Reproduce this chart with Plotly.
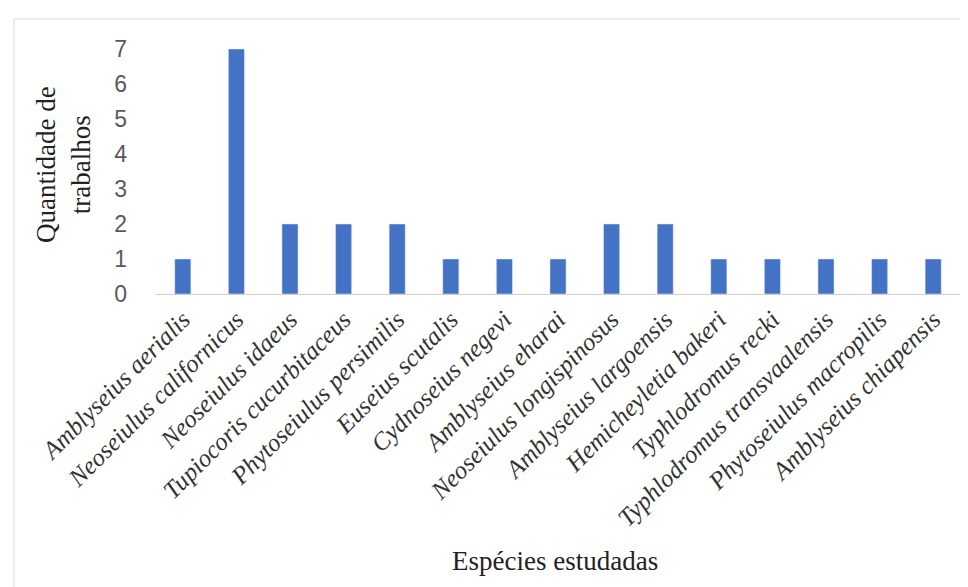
import plotly.graph_objects as go

especies = [
    "Amblyseius aerialis", "Neoseiulus californicus", "Neoseiulus idaeus",
    "Tupiocoris cucurbitaceus", "Phytoseiulus persimilis", "Euseius scutalis",
    "Cydnoseius negevi", "Amblyseius eharai", "Neoseiulus longispinosus",
    "Amblyseius largoensis", "Hemicheyletia bakeri", "Typhlodromus recki",
    "Typhlodromus transvaalensis", "Phytoseiulus macropilis", "Amblyseius chiapensis",
]
trabalhos = [1, 7, 2, 2, 2, 1, 1, 1, 2, 2, 1, 1, 1, 1, 1]
y_ticks = [0, 1, 2, 3, 4, 5, 6, 7]

W, H = 968, 587
L, R, T, B = 148, 16, 41, 301
pw, ph = W - L - R, H - T - B

def px(x):
    return (x - L) / pw

def py(y):
    return (H - B - y) / ph

fig = go.Figure(go.Bar(
    x=especies, y=trabalhos, marker_color="#4472C4", width=0.3,
))

fig.update_layout(
    width=W, height=H,
    margin=dict(l=L, r=R, t=T, b=B),
    paper_bgcolor="white", plot_bgcolor="white",
    showlegend=False,
    xaxis=dict(
        tickangle=-45,
        tickfont=dict(family="Liberation Serif", size=25, color="#333333", style="italic"),
        showline=True, linecolor="#d0d0d0", linewidth=1,
        ticks="", showgrid=False,
    ),
    yaxis=dict(
        range=[0, 7], tickvals=y_ticks,
        tickfont=dict(family="Liberation Sans Narrow, Liberation Sans", size=23, color="#595959"),
        showgrid=False, zeroline=False, showline=False, ticks="",
        ticklabelstandoff=28,
    ),
    annotations=[
        dict(text="Quantidade de<br>trabalhos", textangle=-90,
             xref="paper", yref="paper", x=px(55), y=py(157),
             xanchor="center", yanchor="middle", showarrow=False,
             font=dict(family="Liberation Serif", size=27, color="#222222")),
        dict(text="Espécies estudadas",
             xref="paper", yref="paper", x=px(547), y=py(553),
             xanchor="center", yanchor="middle", showarrow=False,
             font=dict(family="Liberation Serif", size=27, color="#222222")),
    ],
    shapes=[
        dict(type="rect", xref="paper", yref="paper",
             x0=px(6), x1=px(966), y0=py(600), y1=py(11),
             line=dict(color="#d9d9d9", width=1), fillcolor="rgba(0,0,0,0)"),
    ],
)

fig.write_html("out.html")
